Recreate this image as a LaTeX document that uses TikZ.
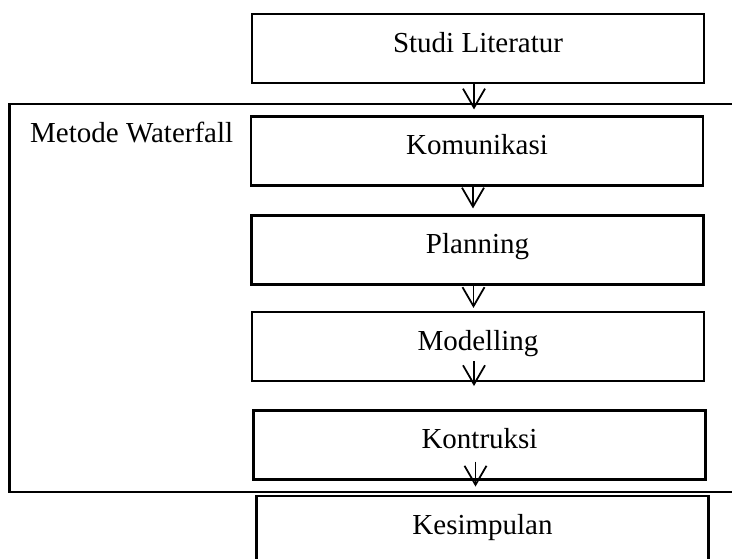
\documentclass[tikz,border=0pt]{standalone}
\usepackage{fontspec}
\setmainfont{Liberation Serif}
\usetikzlibrary{arrows.meta}
\begin{document}
\begin{tikzpicture}[
    box/.style={draw, line width=1.2pt, minimum width=9.04cm, minimum height=1.38cm,
      inner sep=0pt, text height=0.68em, text depth=0.255em, font=\fontsize{16.5}{19}\selectfont},
    flow/.style={-{Straight Barb[length=3.8mm, width=4.4mm]}, line width=1pt,
      transform canvas={xshift=-0.08cm}}
  ]
  \useasboundingbox (0,0) rectangle (14.64,-11.18);

  \pgfmathsetmacro{\fl}{0.19}
  \pgfmathsetmacro{\ft}{-2.08}
  \pgfmathsetmacro{\fb}{-9.84}

  % Draw the frame of the waterfall part (open to the right)
  \draw[line width=1.2pt] (15,\ft) -- (\fl,\ft) -- (\fl,\fb) -- (15,\fb);
  \node[anchor=base west, font=\fontsize{16.5}{19}\selectfont] (waterfall) at (0.48,-2.85) {Metode Waterfall};

  % Draw the steps
  \node[box] (studi) at (9.56,-0.97) {Studi Literatur};
  \node[box] (komunikasi) at (9.54,-3.02) {Komunikasi};
  \node[box] (planning) at (9.55,-5.00) {Planning};
  \node[box] (modelling) at (9.56,-6.93) {Modelling};
  \node[box] (kontruksi) at (9.59,-8.90) {Kontruksi};
  \node[box] (kesimpulan) at (9.65,-10.61) {Kesimpulan};

  % Arrows between the steps
  \draw[flow, shorten >=0.12cm] (studi.south) -- (studi.south |- komunikasi.north);
  \draw[flow, shorten >=0.12cm] (komunikasi.south) -- (komunikasi.south |- planning.north);
  \draw[flow, shorten >=0.06cm] (planning.south) -- (planning.south |- modelling.north);

  % The last two arrows start inside their boxes
  \coordinate (modfrom) at ([yshift=0.42cm]modelling.south);
  \coordinate (modto) at ([yshift=-0.08cm]modelling.south);
  \draw[flow] (modfrom) -- (modto);
  \coordinate (konfrom) at ([yshift=0.38cm]kontruksi.south);
  \coordinate (konto) at ([yshift=-0.12cm]kontruksi.south);
  \draw[flow] (konfrom) -- (konto);

\end{tikzpicture}
\end{document}
